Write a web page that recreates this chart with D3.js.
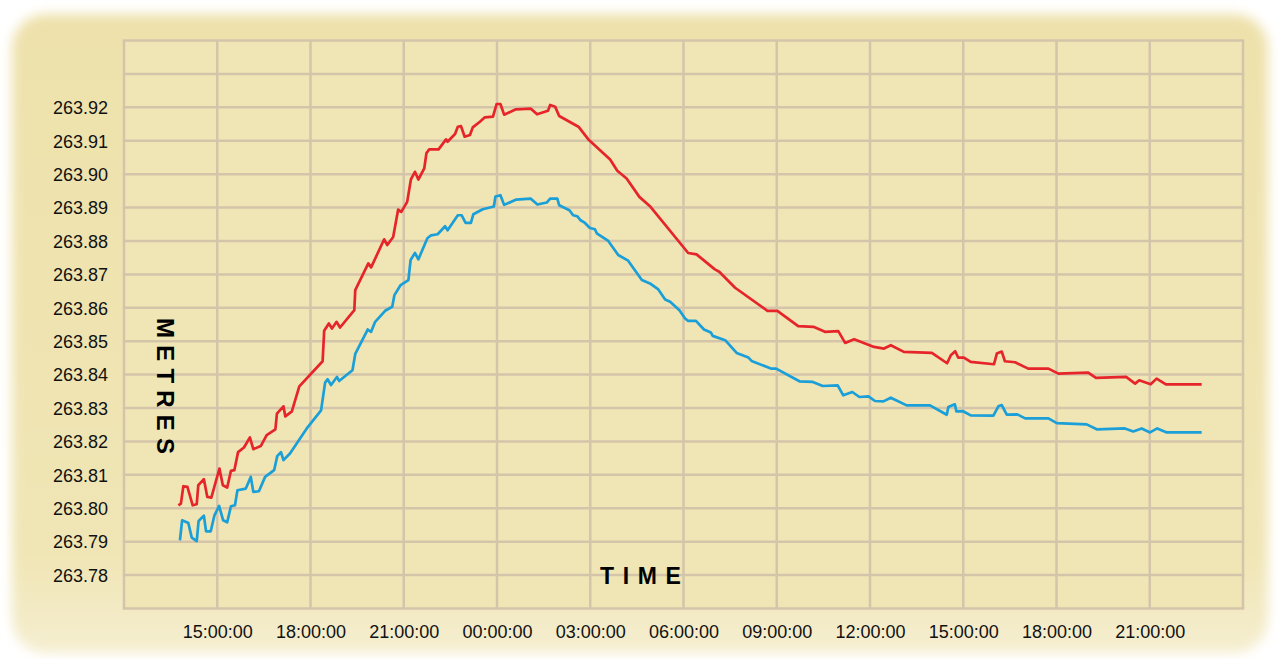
<!DOCTYPE html>
<html>
<head>
<meta charset="utf-8">
<script src="https://cdn.jsdelivr.net/npm/d3@7"></script>
<style>
  html, body { margin: 0; padding: 0; background: #ffffff; }
  svg { display: block; }
</style>
</head>
<body>
<svg id="chart" width="1278" height="659"></svg>
<script>
// ---- data (time = hours since midnight of day 1; values in metres) ----
const redTimes = [13.75,13.83,13.91,14.04,14.21,14.34,14.39,14.57,14.68,14.81,15.07,15.18,15.32,15.44,15.55,15.67,15.86,16.05,16.16,16.40,16.59,16.87,16.92,17.13,17.19,17.40,17.64,18.39,18.44,18.59,18.69,18.84,18.95,19.41,19.44,19.86,19.95,20.37,20.47,20.66,20.82,20.92,21.11,21.23,21.36,21.47,21.66,21.73,21.82,22.12,22.36,22.41,22.65,22.74,22.84,22.96,23.13,23.22,23.45,23.61,23.87,23.99,24.11,24.23,24.61,25.09,25.29,25.64,25.71,25.87,26.00,26.62,26.94,27.64,27.87,28.17,28.58,28.92,30.15,30.42,31.01,31.15,31.66,32.70,33.02,33.69,34.18,34.55,34.98,35.20,35.49,36.13,36.45,36.67,37.09,37.99,38.48,38.60,38.74,38.84,39.02,39.24,39.99,40.08,40.24,40.34,40.67,41.09,41.74,42.06,43.02,43.27,44.24,44.53,44.66,45.03,45.22,45.52,46.67];
const redValues = [263.8009,263.8014,263.8066,263.8064,263.8009,263.8012,263.8069,263.8087,263.8034,263.8032,263.8119,263.8069,263.8062,263.8112,263.8114,263.8168,263.8182,263.8212,263.8177,263.8186,263.8219,263.8236,263.8283,263.8305,263.8275,263.8290,263.8365,263.8440,263.8531,263.8553,263.8538,263.8558,263.8541,263.8593,263.8653,263.8733,263.8721,263.8805,263.8788,263.8812,263.8894,263.8887,263.8917,263.8984,263.9007,263.8984,263.9017,263.9063,263.9074,263.9074,263.9104,263.9097,263.9120,263.9142,263.9144,263.9112,263.9117,263.9140,263.9157,263.9170,263.9172,263.9210,263.9210,263.9178,263.9194,263.9196,263.9179,263.9190,263.9207,263.9202,263.9174,263.9142,263.9104,263.9044,263.9010,263.8987,263.8932,263.8904,263.8764,263.8760,263.8715,263.8708,263.8660,263.8591,263.8591,263.8545,263.8543,263.8528,263.8530,263.8495,263.8506,263.8483,263.8478,263.8488,263.8468,263.8465,263.8434,263.8458,263.8470,263.8451,263.8451,263.8438,263.8431,263.8463,263.8469,263.8440,263.8437,263.8418,263.8418,263.8403,263.8406,263.8390,263.8393,263.8373,263.8383,263.8371,263.8388,263.8371,263.8371];

const blueTimes = [13.80,13.87,14.07,14.18,14.34,14.40,14.57,14.64,14.79,14.91,15.06,15.19,15.32,15.44,15.57,15.65,15.92,16.08,16.16,16.34,16.54,16.83,16.93,17.05,17.13,17.34,17.88,18.34,18.47,18.55,18.66,18.85,18.92,19.35,19.44,19.84,19.95,20.08,20.40,20.63,20.70,20.90,21.15,21.22,21.36,21.47,21.76,21.88,22.09,22.33,22.41,22.74,22.86,22.99,23.16,23.24,23.54,23.90,23.95,24.11,24.23,24.62,25.08,25.30,25.60,25.71,25.94,26.00,26.33,26.45,26.58,26.69,26.83,26.99,27.15,27.21,27.58,27.90,28.22,28.66,28.92,29.19,29.41,29.57,29.87,30.05,30.15,30.40,30.66,30.88,30.94,31.34,31.71,32.09,32.19,32.81,32.98,33.73,34.16,34.48,34.96,35.14,35.43,35.66,35.95,36.16,36.43,36.67,37.18,37.93,38.47,38.52,38.73,38.78,38.98,39.24,39.97,40.13,40.24,40.40,40.74,40.99,41.74,42.01,42.97,43.31,44.20,44.47,44.74,45.01,45.24,45.55,46.67];
const blueValues = [263.7904,263.7964,263.7956,263.7912,263.7902,263.7962,263.7978,263.7931,263.7931,263.7979,263.8007,263.7964,263.7958,263.8006,263.8009,263.8054,263.8059,263.8094,263.8049,263.8051,263.8094,263.8114,263.8156,263.8168,263.8144,263.8164,263.8239,263.8293,263.8376,263.8386,263.8369,263.8393,263.8381,263.8413,263.8462,263.8535,263.8528,263.8558,263.8591,263.8603,263.8638,263.8668,263.8683,263.8743,263.8764,263.8745,263.8808,263.8817,263.8820,263.8844,263.8832,263.8877,263.8877,263.8854,263.8854,263.8880,263.8895,263.8903,263.8933,263.8937,263.8908,263.8924,263.8927,263.8909,263.8915,263.8927,263.8927,263.8907,263.8892,263.8877,263.8874,263.8862,263.8854,263.8839,263.8835,263.8823,263.8800,263.8758,263.8741,263.8683,263.8673,263.8655,263.8625,263.8618,263.8593,263.8568,263.8561,263.8561,263.8535,263.8526,263.8516,263.8503,263.8465,263.8451,263.8441,263.8418,263.8418,263.8380,263.8378,263.8366,263.8368,263.8338,263.8348,263.8333,263.8335,263.8321,263.8320,263.8331,263.8308,263.8308,263.8280,263.8303,263.8311,263.8290,263.8291,263.8278,263.8277,263.8305,263.8309,263.8280,263.8281,263.8269,263.8269,263.8255,263.8251,263.8236,263.8239,263.8230,263.8239,263.8227,263.8239,263.8227,263.8227];

const xTickHours = [15,18,21,24,27,30,33,36,39,42,45];
const xTickLabels = ["15:00:00","18:00:00","21:00:00","00:00:00","03:00:00","06:00:00","09:00:00","12:00:00","15:00:00","18:00:00","21:00:00"];
const yTickValues = [263.78,263.79,263.80,263.81,263.82,263.83,263.84,263.85,263.86,263.87,263.88,263.89,263.90,263.91,263.92];
const yTickLabels = ["263.78","263.79","263.80","263.81","263.82","263.83","263.84","263.85","263.86","263.87","263.88","263.89","263.90","263.91","263.92"];
const xDomain = [12, 48];
const yDomain = [263.77, 263.94];
const yLabel = "METRES";
const xLabel = "TIME";

// ---- drawing ----
const svg = d3.select("#chart");
const W = 1278, H = 659;
const m = { left: 124, right: 1243, top: 40.5, bottom: 608.5 };
const panel = "#f0e5b4", gridC = "#d4c5aa";

const defs = svg.append("defs");
const blur = defs.append("filter").attr("id", "soft").attr("x", "-5%").attr("y", "-5%").attr("width", "110%").attr("height", "110%");
blur.append("feGaussianBlur").attr("stdDeviation", 6);
const grad = defs.append("linearGradient").attr("id", "pg").attr("x1", 0).attr("y1", 0).attr("x2", 0).attr("y2", 1);
grad.append("stop").attr("offset", "0%").attr("stop-color", "#eee1ab");
grad.append("stop").attr("offset", "85%").attr("stop-color", "#f0e5b5");
grad.append("stop").attr("offset", "100%").attr("stop-color", "#f5eed0");

svg.append("rect").attr("width", W).attr("height", H).attr("fill", "#ffffff");
svg.append("rect").attr("x", 12).attr("y", 14).attr("width", W - 22).attr("height", H - 20)
  .attr("rx", 34).attr("fill", "url(#pg)").attr("filter", "url(#soft)");

const x = d3.scaleLinear().domain(xDomain).range([m.left, m.right]);
const y = d3.scaleLinear().domain(yDomain).range([m.bottom, m.top]);

svg.append("rect").attr("x", m.left).attr("y", m.top).attr("width", m.right - m.left).attr("height", m.bottom - m.top)
  .attr("fill", panel);

// grid
const xGrid = d3.range(xDomain[0], xDomain[1] + 0.001, 3);
const yGrid = d3.range(0, 18).map(i => +(yDomain[0] + i * 0.01).toFixed(2));
const g = svg.append("g");
g.selectAll(".vg").data(xGrid).join("line")
  .attr("x1", d => x(d)).attr("x2", d => x(d)).attr("y1", m.top).attr("y2", m.bottom)
  .attr("stroke", gridC).attr("stroke-width", 2.5);
g.selectAll(".hg").data(yGrid).join("line")
  .attr("x1", m.left - 1.25).attr("x2", m.right + 1.25).attr("y1", d => y(d)).attr("y2", d => y(d))
  .attr("stroke", gridC).attr("stroke-width", 2.5);

// axes (labels only)
const font = "'Liberation Sans', Arial, Helvetica, sans-serif";
const xAxis = d3.axisBottom(x).tickValues(xTickHours).tickSize(0).tickPadding(0)
  .tickFormat((d, i) => xTickLabels[i]);
const xa = svg.append("g").attr("transform", `translate(0, 638)`).call(xAxis);
xa.select(".domain").remove();
xa.selectAll("text").attr("font-family", font).attr("font-size", 18).attr("fill", "#111").attr("dy", 0);

const yAxis = d3.axisLeft(y).tickValues(yTickValues).tickSize(0).tickPadding(0)
  .tickFormat((d, i) => yTickLabels[i]);
const ya = svg.append("g").attr("transform", `translate(108, 0)`).call(yAxis);
ya.select(".domain").remove();
ya.selectAll("text").attr("font-family", font).attr("font-size", 18).attr("fill", "#111").attr("dy", "0.35em");

// axis titles
svg.append("text").attr("transform", "translate(157,318) rotate(90)")
  .attr("font-family", font).attr("font-weight", "bold").attr("font-size", 24)
  .attr("letter-spacing", 7.2).attr("fill", "#000").text(yLabel);
svg.append("text").attr("x", 600).attr("y", 584)
  .attr("font-family", font).attr("font-weight", "bold").attr("font-size", 23)
  .attr("letter-spacing", 8.6).attr("fill", "#000").text(xLabel);

// lines
const line = d3.line().x(d => x(d[0])).y(d => y(d[1]));
const redData = redTimes.map((t, i) => [t, redValues[i]]);
const blueData = blueTimes.map((t, i) => [t, blueValues[i]]);
svg.append("path").datum(blueData).attr("d", line).attr("fill", "none")
  .attr("stroke", "#1a9fd8").attr("stroke-width", 2.7).attr("stroke-linejoin", "round");
svg.append("path").datum(redData).attr("d", line).attr("fill", "none")
  .attr("stroke", "#e6252b").attr("stroke-width", 2.7).attr("stroke-linejoin", "round");
</script>
</body>
</html>
